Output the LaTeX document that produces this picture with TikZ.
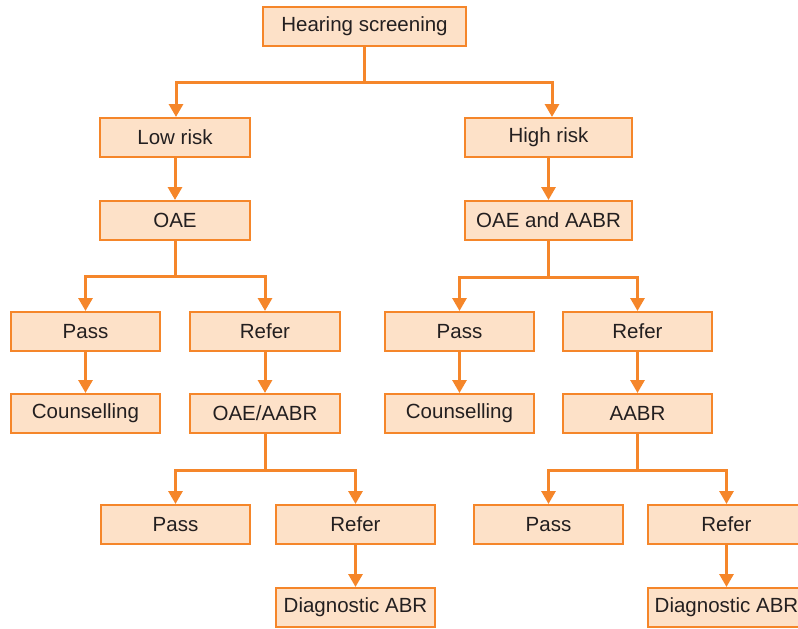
\documentclass[tikz,border=0pt]{standalone}
\usepackage{fontspec}
\setmainfont{Liberation Sans}
\usetikzlibrary{arrows.meta}
\definecolor{bord}{HTML}{F5862A}
\definecolor{boxfill}{HTML}{FDE1C8}
\definecolor{txt}{HTML}{231F20}
\begin{document}
\begin{tikzpicture}[x=1pt,y=-1pt,
 box/.style={draw=bord,fill=boxfill,line width=2pt,minimum height=39pt,inner sep=0pt,text=txt,font=\fontsize{20.5}{24}\selectfont},
 conn/.style={draw=bord,line width=3pt,line join=miter,-{Triangle[width=14pt,length=13pt]}}]
\useasboundingbox (0,0) rectangle (798,629);
\clip (0,0) rectangle (798,629);
% row 0
\node[box,minimum width=203pt] (hs) at (364.5,26.5) {Hearing screening};
% row 1
\node[box,minimum width=150pt] (low) at (175,137.5) {Low risk};
\node[box,minimum width=167pt] (high) at (548.5,137.5) {High risk};
% row 2
\node[box,minimum width=150pt] (oae) at (175,220.5) {OAE};
\node[box,minimum width=167pt] (oaeaabr) at (548.5,220.5) {OAE and AABR};
% row 3
\node[box,minimum width=149pt] (passL1) at (85.5,331.5) {Pass};
\node[box,minimum width=150pt] (referL1) at (265,331.5) {Refer};
\node[box,minimum width=149pt] (passR1) at (459.5,331.5) {Pass};
\node[box,minimum width=149pt] (referR1) at (637.5,331.5) {Refer};
% row 4
\node[box,minimum width=149pt] (counsL) at (85.5,413.5) {Counselling};
\node[box,minimum width=150pt] (oaeaabr2) at (265,413.5) {OAE/AABR};
\node[box,minimum width=149pt] (counsR) at (459.5,413.5) {Counselling};
\node[box,minimum width=149pt] (aabr) at (637.5,413.5) {AABR};
% row 5
\node[box,minimum width=149pt] (passL2) at (175.5,524.5) {Pass};
\node[box,minimum width=159pt] (referL2) at (355.5,524.5) {Refer};
\node[box,minimum width=149pt] (passR2) at (548.5,524.5) {Pass};
\node[box,minimum width=157pt] (referR2) at (726.5,524.5) {Refer};
% row 6
\node[box,minimum width=159pt] (diagL) at (355.5,607.5) {Diagnostic ABR};
\node[box,minimum width=157pt] (diagR) at (726.5,607.5) {Diagnostic ABR};
% junctions
\coordinate (j0) at (364.5,82);
\coordinate (j1) at (175,276);
\coordinate (j2) at (548.5,277);
\coordinate (j3) at (265,470);
\coordinate (j4) at (637.5,470);
% connectors
\draw[conn] (hs.south) -- (j0) -| ([xshift=1pt]low.north);
\draw[conn] (hs.south) -- (j0) -| ([xshift=3.5pt]high.north);
\draw[conn] (low) -- (oae);
\draw[conn] (high) -- (oaeaabr);
\draw[conn] (oae.south) -- (j1) -| (passL1.north);
\draw[conn] (oae.south) -- (j1) -| (referL1.north);
\draw[conn] (oaeaabr.south) -- (j2) -| (passR1.north);
\draw[conn] (oaeaabr.south) -- (j2) -| (referR1.north);
\draw[conn] (passL1) -- (counsL);
\draw[conn] (referL1) -- (oaeaabr2);
\draw[conn] (passR1) -- (counsR);
\draw[conn] (referR1) -- (aabr);
\draw[conn] (oaeaabr2.south) -- (j3) -| (passL2.north);
\draw[conn] (oaeaabr2.south) -- (j3) -| (referL2.north);
\draw[conn] (aabr.south) -- (j4) -| (passR2.north);
\draw[conn] (aabr.south) -- (j4) -| (referR2.north);
\draw[conn] (referL2) -- (diagL);
\draw[conn] (referR2) -- (diagR);
\end{tikzpicture}
\end{document}
